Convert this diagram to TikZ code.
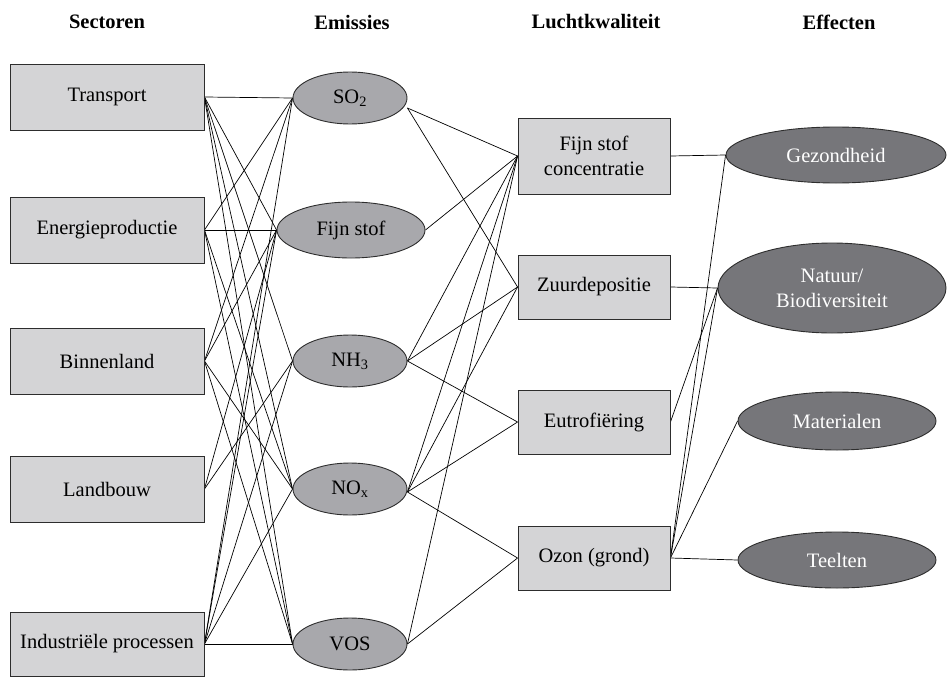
\documentclass[tikz,border=0pt]{standalone}
\usepackage{fontspec}
\setmainfont{Liberation Serif}
\usetikzlibrary{shapes.geometric,backgrounds}
\definecolor{boxgray}{RGB}{212,212,214}
\definecolor{emgray}{RGB}{168,168,172}
\definecolor{effgray}{RGB}{118,118,122}
\definecolor{edgegray}{RGB}{45,45,45}
\begin{document}
\begin{tikzpicture}[x=1pt,y=-1pt,
  font=\fontsize{20.5}{25}\selectfont,
  sector/.style={draw=edgegray, fill=boxgray, line width=0.9pt, minimum width=194pt, minimum height=66pt, inner sep=0pt},
  emis/.style={ellipse, draw=edgegray, fill=emgray, line width=0.9pt, minimum width=114pt, minimum height=52pt, inner sep=0pt},
  qual/.style={draw=edgegray, fill=boxgray, line width=0.9pt, minimum width=152pt, minimum height=64pt, inner sep=0pt, align=center},
  eff/.style={ellipse, draw=edgegray, fill=effgray, line width=0.9pt, text=white, inner sep=0pt, align=center},
  head/.style={font=\fontsize{20.5}{25}\selectfont\bfseries},
  link/.style={draw=black, line width=0.7pt}]
\useasboundingbox (0,0) rectangle (947,677);

% headers
\node[head] (h1) at (107,22) {Sectoren};
\node[head] (h2) at (352,22) {Emissies};
\node[head] (h3) at (596,22) {Luchtkwaliteit};
\node[head] (h4) at (839,22) {Effecten};

% sector boxes
\node[sector] (tr) at (107,97) {Transport};
\node[sector] (en) at (107,230) {Energieproductie};
\node[sector] (bi) at (107,361) {Binnenland};
\node[sector] (la) at (107,489) {Landbouw};
\node[sector, minimum height=64pt] (in) at (107,644) {Industriële processen};

% emission ellipses
\node[emis] (so) at (350,98) {SO\textsubscript{2}};
\node[emis, minimum width=148pt, minimum height=56pt] (fs) at (351,230) {Fijn stof};
\node[emis] (nh) at (350,361) {NH\textsubscript{3}};
\node[emis] (no) at (350,489) {NO\textsubscript{x}};
\node[emis] (vo) at (350,644) {VOS};

% quality boxes
\node[qual, minimum height=76pt] (fsc) at (594,156) {Fijn stof\\concentratie};
\node[qual] (zu) at (594,287) {Zuurdepositie};
\node[qual] (eu) at (594,422) {Eutrofiëring};
\node[qual] (oz) at (594,558) {Ozon (grond)};

% effects
\node[eff, minimum width=220pt, minimum height=56pt] (ge) at (836,155) {Gezondheid};
\node[eff, minimum width=228pt, minimum height=90pt] (na) at (832,288) {Natuur/\\Biodiversiteit};
\node[eff, minimum width=198pt, minimum height=58pt] (ma) at (837,421) {Materialen};
\node[eff, minimum width=198pt, minimum height=56pt] (te) at (837,560) {Teelten};

% anchor points for the emission side
\coordinate (soR) at ([yshift=-10pt]so.east);
\coordinate (noR) at ([yshift=-3pt]no.east);

\begin{scope}[on background layer]
% sectors -> emissions
\foreach \a/\b in {tr/so, tr/fs, tr/nh, tr/no, tr/vo,
                   en/so, en/fs, en/no, en/vo,
                   bi/so, bi/fs, bi/no, bi/vo,
                   la/fs, la/nh,
                   in/so, in/fs, in/nh, in/no, in/vo}
  \draw[link] (\a.east) -- (\b.west);
% emissions -> air quality
\draw[link] (soR) -- (fsc.west);
\draw[link] (soR) -- (zu.west);
\draw[link] (fs.east) -- (fsc.west);
\draw[link] (nh.east) -- (fsc.west);
\draw[link] (nh.east) -- (zu.west);
\draw[link] (nh.east) -- (eu.west);
\draw[link] (noR) -- (fsc.west);
\draw[link] (noR) -- (zu.west);
\draw[link] (noR) -- (eu.west);
\draw[link] (noR) -- (oz.west);
\draw[link] (vo.east) -- (fsc.west);
\draw[link] (vo.east) -- (oz.west);
% air quality -> effects
\draw[link] (fsc.east) -- (ge.west);
\draw[link] (zu.east) -- (na.west);
\draw[link] (eu.east) -- (na.west);
\draw[link] (oz.east) -- (ge.west);
\draw[link] (oz.east) -- (na.west);
\draw[link] (oz.east) -- (ma.west);
\draw[link] (oz.east) -- (te.west);
\end{scope}
\end{tikzpicture}
\end{document}
